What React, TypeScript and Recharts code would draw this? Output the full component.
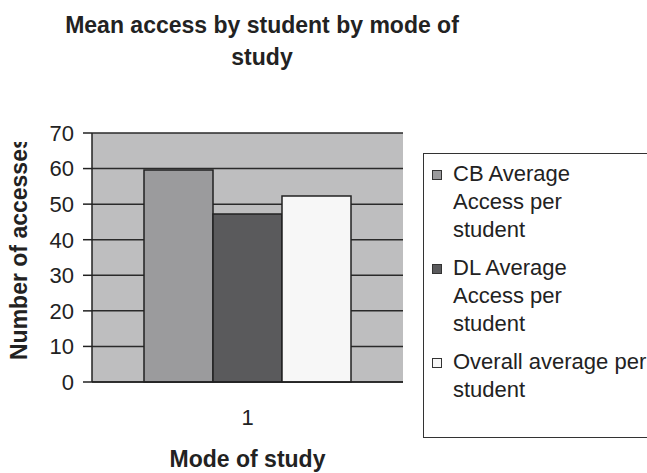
import React from 'react';
import { BarChart, Bar, XAxis, YAxis, CartesianGrid, Label } from 'recharts';

// values
const CATEGORIES = ['1'];
const CB_VALUES = [59.6];
const DL_VALUES = [47.2];
const OVERALL_VALUES = [52.3];
const Y_TICKS = [0, 10, 20, 30, 40, 50, 60, 70];

const SERIES_KEYS = ['cb', 'dl', 'overall'];
const SERIES_NAMES = ['CB Average\nAccess per\nstudent', 'DL Average\nAccess per\nstudent', 'Overall average per\nstudent'];
const SERIES_COLORS = ['#9b9b9d', '#5a5a5c', '#f7f7f7'];

const TITLE_LINES = ['Mean access by student by mode of', 'study'];
const X_TITLE = 'Mode of study';
const Y_TITLE = 'Number of accesses';

const FONT = '"Liberation Sans", Arial, sans-serif';
const INK = '#222';

const data = CATEGORIES.map((c, i) => ({
  mode: c,
  cb: CB_VALUES[i],
  dl: DL_VALUES[i],
  overall: OVERALL_VALUES[i],
}));

function YTitle() {
  // the original label is cut off at the top of the chart area
  return (
    <g>
      <defs>
        <clipPath id="ytitle-clip">
          <rect x={0} y={142} width={60} height={300} />
        </clipPath>
      </defs>
      <g clipPath="url(#ytitle-clip)">
        <text
          x={27}
          y={360}
          transform="rotate(-90, 27, 360)"
          fontFamily={FONT}
          fontSize={23}
          fontWeight="bold"
          fill={INK}
        >
          {Y_TITLE}
        </text>
      </g>
    </g>
  );
}

function XTitle(props: any) {
  const vb = props.viewBox || { x: 92, y: 382, width: 311 };
  return (
    <text
      x={vb.x + vb.width / 2}
      y={467}
      textAnchor="middle"
      fontFamily={FONT}
      fontSize={23}
      fontWeight="bold"
      fill={INK}
    >
      {X_TITLE}
    </text>
  );
}

export default function App() {
  return (
    <div style={{ position: 'absolute', left: 0, top: 0, width: 647, height: 473, overflow: 'hidden', background: '#fff', fontFamily: FONT }}>
      {/* title */}
      <div style={{ position: 'absolute', left: 0, top: 9, width: 524, textAlign: 'center', fontSize: 23, lineHeight: '32px', fontWeight: 'bold', color: INK }}>
        {TITLE_LINES.map(l => <div key={l}>{l}</div>)}
      </div>

      <BarChart
        width={647}
        height={473}
        data={data}
        margin={{ top: 133, right: 244, bottom: 61, left: 32 }}
        barCategoryGap={52}
        barGap={0}
      >
        <CartesianGrid vertical={false} fill="#bebebf" stroke="#2a2a2a" strokeWidth={1.5} fillOpacity={1} />
        <XAxis
          dataKey="mode"
          height={30}
          tickLine={false}
          tickSize={0}
          tickMargin={27}
          axisLine={{ stroke: INK, strokeWidth: 1.5 }}
          tick={{ fill: INK, fontSize: 22, fontFamily: FONT }}
        >
          <Label content={<XTitle />} />
        </XAxis>
        <YAxis
          width={60}
          domain={[0, 70]}
          ticks={Y_TICKS}
          interval={0}
          tickSize={9}
          tickMargin={9}
          axisLine={{ stroke: INK, strokeWidth: 1.5 }}
          tickLine={{ stroke: INK, strokeWidth: 1.5 }}
          tick={{ fill: INK, fontSize: 22, fontFamily: FONT }}
        >
          <Label content={<YTitle />} />
        </YAxis>
        {SERIES_KEYS.map((k, i) => (
          <Bar key={k} dataKey={k} fill={SERIES_COLORS[i]} stroke={INK} strokeWidth={1.5} isAnimationActive={false} />
        ))}
      </BarChart>

      {/* legend */}
      <div style={{ position: 'absolute', left: 423, top: 153, width: 260, height: 285, border: '1.5px solid #333', background: '#fff', boxSizing: 'border-box', paddingTop: 6, paddingLeft: 8 }}>
        {SERIES_NAMES.map((name, i) => (
          <div key={name} style={{ display: 'flex', alignItems: 'flex-start', marginBottom: 10 }}>
            <div style={{ width: 8, height: 8, marginTop: 10, marginRight: 11, border: '1px solid #333', background: SERIES_COLORS[i], flexShrink: 0 }} />
            <div style={{ fontSize: 22, lineHeight: '28px', color: INK, whiteSpace: 'pre' }}>{name}</div>
          </div>
        ))}
      </div>
    </div>
  );
}
